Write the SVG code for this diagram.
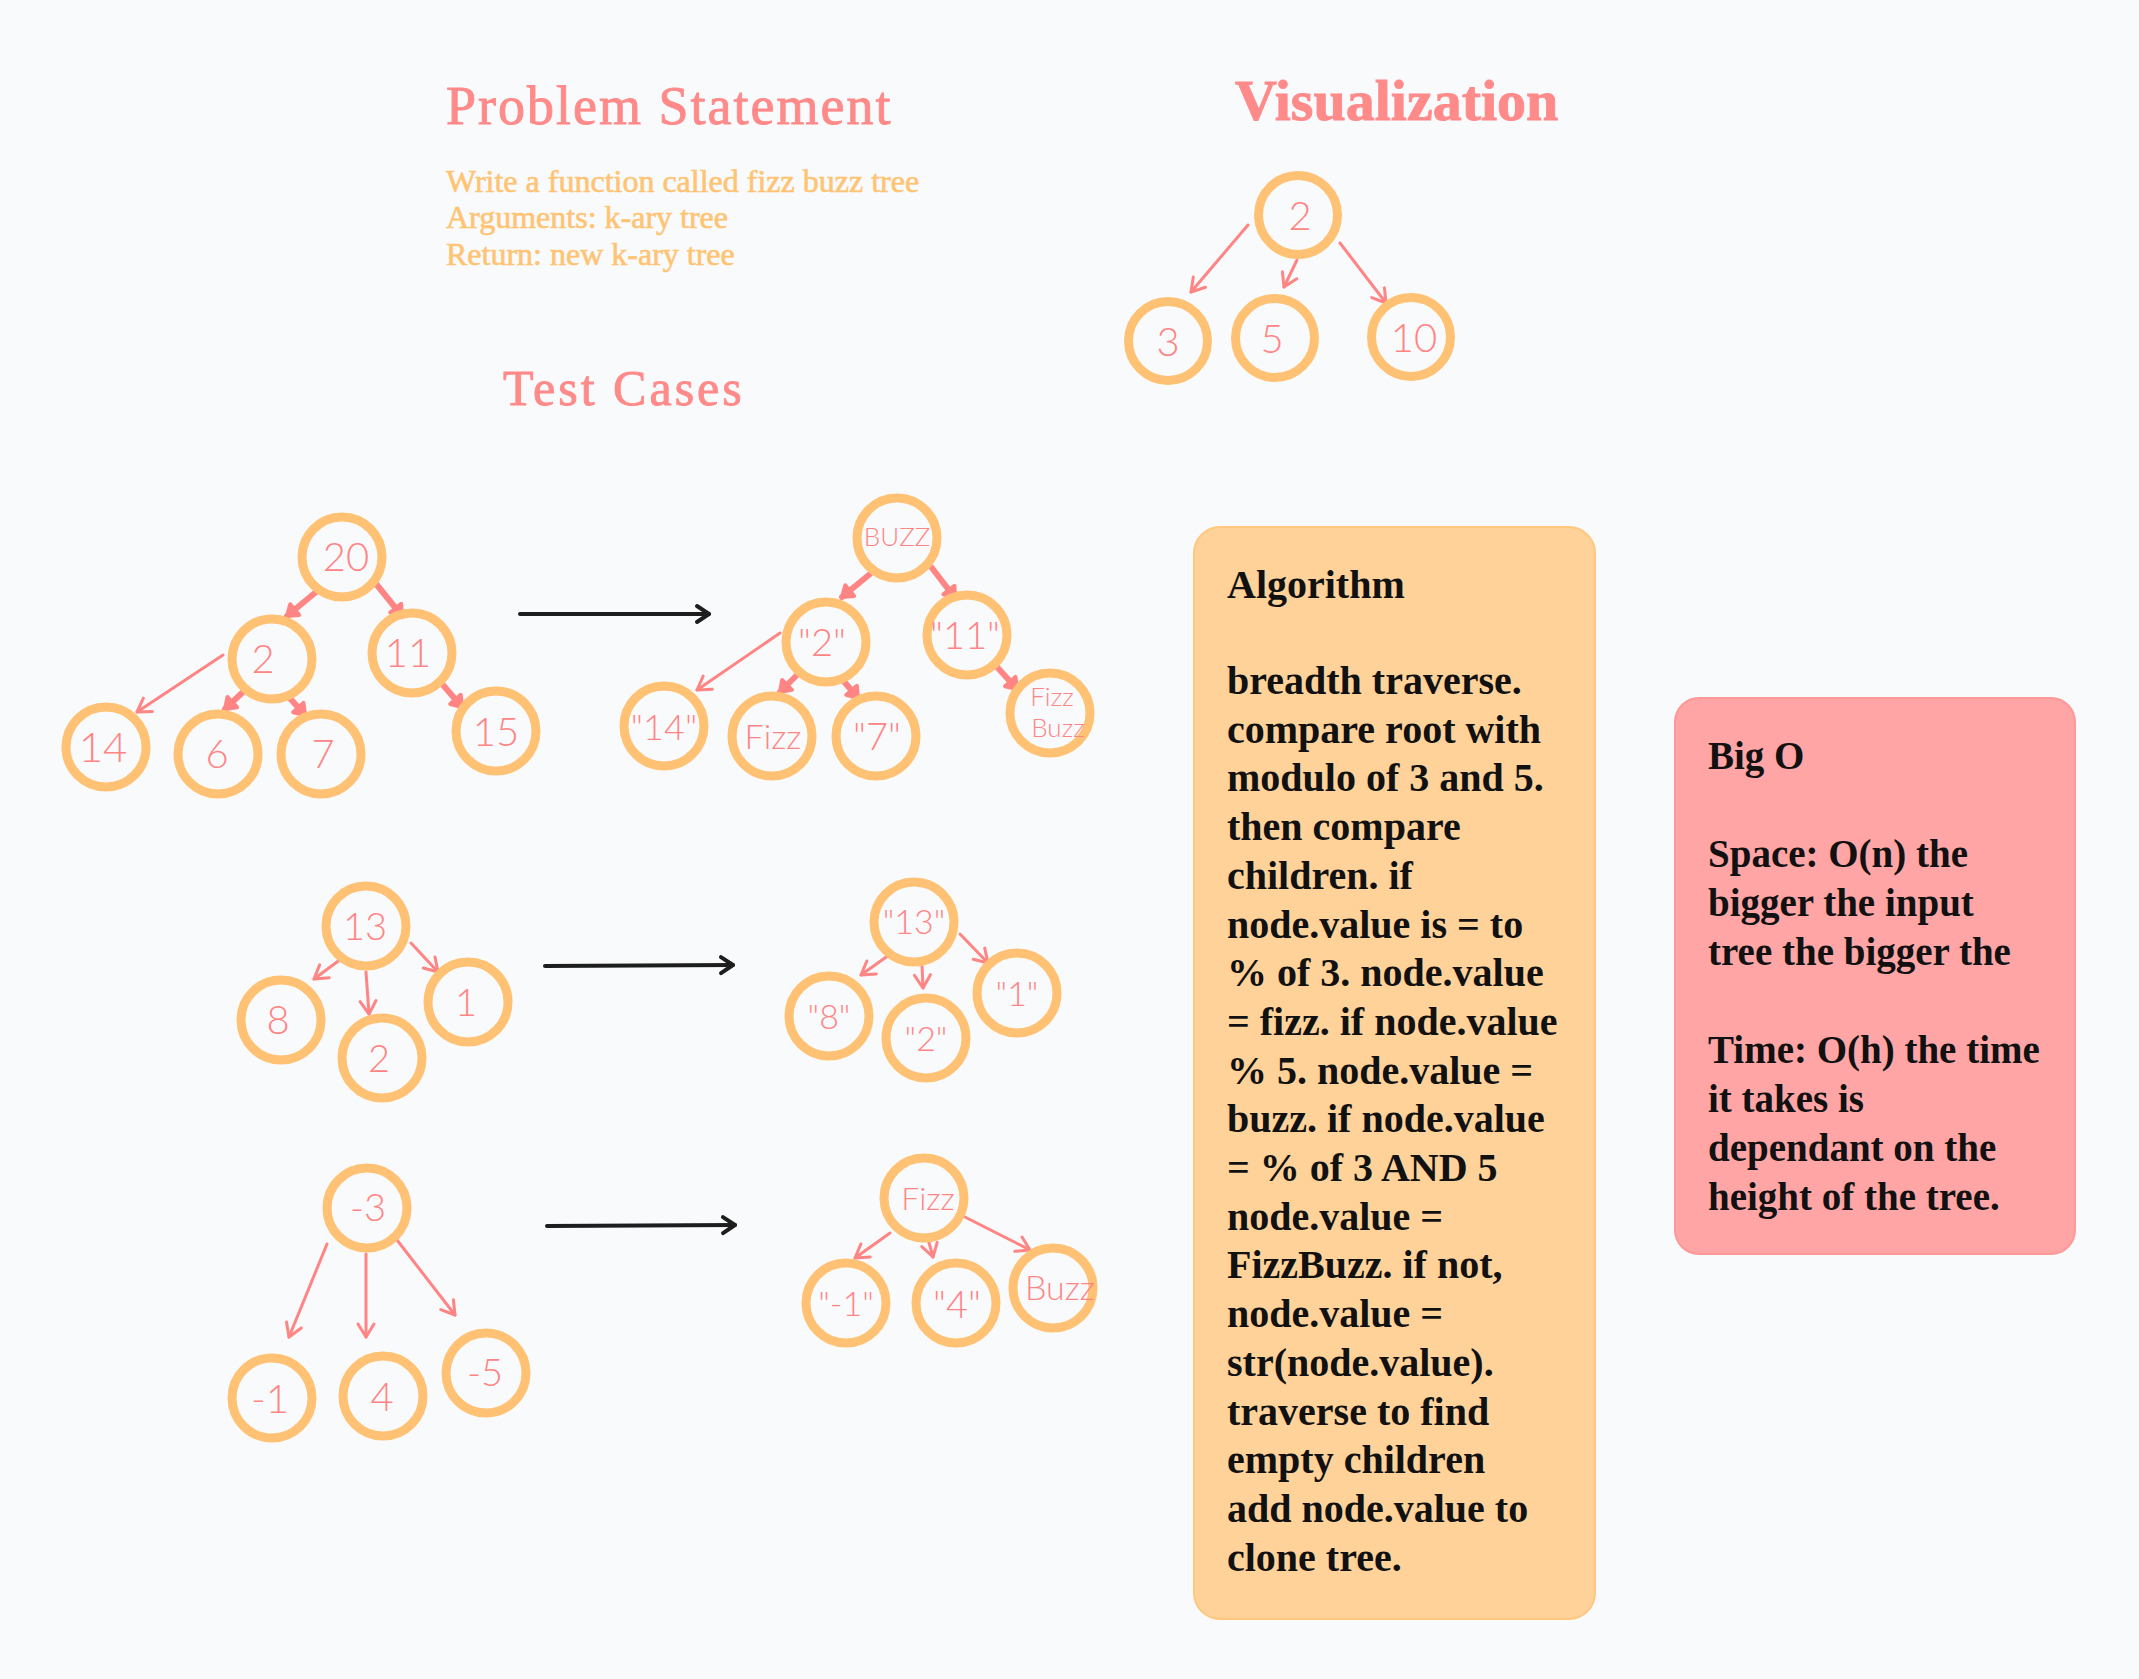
<svg xmlns="http://www.w3.org/2000/svg" width="2139" height="1679" viewBox="0 0 2139 1679">
<style>
.title{font-family:"Liberation Serif",serif;fill:#FF8A8A;stroke:#FF8A8A;stroke-width:0.9}
.body{font-family:"Liberation Serif",serif;fill:#FFC473;stroke:#FFC473;stroke-width:0.6;font-size:32px}
.c{fill:none;stroke:#FFC173;stroke-width:9}
.hw{font-family:Lato,"Open Sans",sans-serif;font-weight:300;fill:#FF8585;text-anchor:middle}
.thin{stroke:#FF8585;stroke-width:3;fill:none;stroke-linecap:round;marker-end:url(#hThin)}
.thick{stroke:#FF8585;stroke-width:6;fill:none;stroke-linecap:round;marker-end:url(#hThick)}
.blk{stroke:#1E1E1E;stroke-width:4;fill:none;stroke-linecap:round;marker-end:url(#hBlk)}
.alg{font-family:"Liberation Serif",serif;font-weight:bold;font-size:40px;fill:#111}
.big{font-family:"Liberation Serif",serif;font-weight:bold;font-size:39px;fill:#111}
</style>
<defs>
<marker id="hThin" viewBox="-20 -12 24 24" refX="0" refY="0" markerWidth="24" markerHeight="24" markerUnits="userSpaceOnUse" orient="auto"><path d="M-13,-8 L0,0 L-13,8" fill="none" stroke="#FF8585" stroke-width="3" stroke-linecap="round" stroke-linejoin="round"/></marker>
<marker id="hThick" viewBox="-20 -12 24 24" refX="0" refY="0" markerWidth="24" markerHeight="24" markerUnits="userSpaceOnUse" orient="auto"><path d="M-10,-7 L0,0 L-10,7 Z" fill="#FF8585" stroke="#FF8585" stroke-width="4" stroke-linejoin="round"/></marker>
<marker id="hBlk" viewBox="-20 -12 24 24" refX="0" refY="0" markerWidth="24" markerHeight="24" markerUnits="userSpaceOnUse" orient="auto"><path d="M-12,-8 L0,0 L-12,8" fill="none" stroke="#1E1E1E" stroke-width="4" stroke-linecap="round" stroke-linejoin="round"/></marker>
</defs>
<rect width="2139" height="1679" fill="#F9FAFB"/>

<g id="titles">
<text class="title" x="446" y="124" font-size="54" letter-spacing="2">Problem Statement</text>
<text class="body" x="446" y="192">Write a function called fizz buzz tree</text>
<text class="body" x="446" y="228">Arguments: k-ary tree</text>
<text class="body" x="446" y="265">Return: new k-ary tree</text>
<text class="title" x="1235" y="120" font-size="58" font-weight="bold" stroke-width="0">Visualization</text>
<text class="title" x="503" y="405" font-size="50" letter-spacing="3">Test Cases</text>
</g>

<g id="connectors">
<line class="thin" x1="1248" y1="225" x2="1191" y2="292"/>
<line class="thin" x1="1297" y1="260" x2="1284" y2="287"/>
<line class="thin" x1="1340" y1="243" x2="1386" y2="303"/>

<line class="thick" x1="316" y1="592" x2="287" y2="616"/>
<line class="thick" x1="377" y1="585" x2="402" y2="616"/>
<line class="thick" x1="244" y1="691" x2="225" y2="709"/>
<line class="thick" x1="287" y1="695" x2="305" y2="715"/>
<line class="thick" x1="443" y1="685" x2="462" y2="707"/>
<line class="thin" x1="223" y1="655" x2="137" y2="712"/>

<line class="thick" x1="870" y1="574" x2="842" y2="597"/>
<line class="thick" x1="932" y1="568" x2="955" y2="598"/>
<line class="thick" x1="798" y1="674" x2="780" y2="692"/>
<line class="thick" x1="841" y1="678" x2="858" y2="698"/>
<line class="thick" x1="997" y1="667" x2="1017" y2="689"/>
<line class="thin" x1="780" y1="633" x2="697" y2="690"/>

<line class="thin" x1="341" y1="959" x2="314" y2="979"/>
<line class="thin" x1="366" y1="972" x2="369" y2="1014"/>
<line class="thin" x1="411" y1="943" x2="438" y2="972"/>
<line class="thin" x1="889" y1="955" x2="861" y2="975"/>
<line class="thin" x1="922" y1="965" x2="923" y2="988"/>
<line class="thin" x1="960" y1="934" x2="988" y2="963"/>

<line class="thin" x1="327" y1="1244" x2="289" y2="1337"/>
<line class="thin" x1="366" y1="1254" x2="366" y2="1337"/>
<line class="thin" x1="397" y1="1240" x2="455" y2="1315"/>
<line class="thin" x1="890" y1="1233" x2="855" y2="1258"/>
<line class="thin" x1="928" y1="1239" x2="933" y2="1257"/>
<line class="thin" x1="959" y1="1214" x2="1030" y2="1250"/>

<line class="blk" x1="520" y1="614" x2="709" y2="614"/>
<line class="blk" x1="545" y1="966" x2="733" y2="965"/>
<line class="blk" x1="547" y1="1226" x2="735" y2="1225"/>
</g>

<g id="v-root"><circle class="c" cx="1298" cy="215" r="39.5"/><text class="hw" x="1300" y="230" font-size="40">2</text></g>
<g id="v-3"><circle class="c" cx="1168" cy="341" r="39.5"/><text class="hw" x="1168" y="356" font-size="40">3</text></g>
<g id="v-5"><circle class="c" cx="1275" cy="338" r="39.5"/><text class="hw" x="1272" y="353" font-size="40">5</text></g>
<g id="v-10"><circle class="c" cx="1411" cy="337" r="39.5"/><text class="hw" x="1414" y="352" font-size="40">10</text></g>

<g id="t1-20"><circle class="c" cx="342" cy="557" r="40"/><text class="hw" x="346" y="571" font-size="40">20</text></g>
<g id="t1-2"><circle class="c" cx="272" cy="659" r="40"/><text class="hw" x="263" y="673" font-size="40">2</text></g>
<g id="t1-11"><circle class="c" cx="412" cy="653" r="40"/><text class="hw" x="408" y="667" font-size="40">11</text></g>
<g id="t1-14"><circle class="c" cx="106" cy="747" r="40"/><text class="hw" x="103" y="762" font-size="42">14</text></g>
<g id="t1-6"><circle class="c" cx="218" cy="754" r="40"/><text class="hw" x="217" y="768" font-size="40">6</text></g>
<g id="t1-7"><circle class="c" cx="321" cy="754" r="40"/><text class="hw" x="323" y="768" font-size="40">7</text></g>
<g id="t1-15"><circle class="c" cx="496" cy="731" r="40"/><text class="hw" x="496" y="746" font-size="40">15</text></g>

<g id="o1-buzz"><circle class="c" cx="897" cy="538" r="40"/><text class="hw" x="897" y="546" font-size="26">BUZZ</text></g>
<g id="o1-2"><circle class="c" cx="826" cy="642" r="40"/><text class="hw" x="822" y="656" font-size="38">"2"</text></g>
<g id="o1-11"><circle class="c" cx="967" cy="635" r="40"/><text class="hw" x="965" y="649" font-size="38">"11"</text></g>
<g id="o1-14"><circle class="c" cx="664" cy="726" r="40"/><text class="hw" x="664" y="740" font-size="36">"14"</text></g>
<g id="o1-fizz"><circle class="c" cx="772" cy="736" r="40"/><text class="hw" x="773" y="749" font-size="34">Fizz</text></g>
<g id="o1-7"><circle class="c" cx="876" cy="736" r="40"/><text class="hw" x="877" y="750" font-size="38">"7"</text></g>
<g id="o1-fizzbuzz"><circle class="c" cx="1050" cy="713" r="40"/><text class="hw" x="1052" y="706" font-size="26">Fizz</text><text class="hw" x="1058" y="737" font-size="26">Buzz</text></g>

<g id="t2-13"><circle class="c" cx="366" cy="926" r="40"/><text class="hw" x="365" y="940" font-size="38">13</text></g>
<g id="t2-8"><circle class="c" cx="281" cy="1020" r="40"/><text class="hw" x="278" y="1034" font-size="40">8</text></g>
<g id="t2-2"><circle class="c" cx="382" cy="1058" r="40"/><text class="hw" x="379" y="1072" font-size="38">2</text></g>
<g id="t2-1"><circle class="c" cx="468" cy="1002" r="40"/><text class="hw" x="466" y="1016" font-size="38">1</text></g>

<g id="o2-13"><circle class="c" cx="914" cy="922" r="40"/><text class="hw" x="914" y="934" font-size="34">"13"</text></g>
<g id="o2-8"><circle class="c" cx="829" cy="1016" r="40"/><text class="hw" x="829" y="1029" font-size="34">"8"</text></g>
<g id="o2-2"><circle class="c" cx="926" cy="1038" r="40"/><text class="hw" x="926" y="1051" font-size="34">"2"</text></g>
<g id="o2-1"><circle class="c" cx="1017" cy="993" r="40"/><text class="hw" x="1017" y="1006" font-size="34">"1"</text></g>

<g id="t3-n3"><circle class="c" cx="367" cy="1208" r="40"/><text class="hw" x="368" y="1221" font-size="38">-3</text></g>
<g id="t3-n1"><circle class="c" cx="272" cy="1398" r="40"/><text class="hw" x="270" y="1413" font-size="40">-1</text></g>
<g id="t3-4"><circle class="c" cx="383" cy="1396" r="40"/><text class="hw" x="382" y="1411" font-size="40">4</text></g>
<g id="t3-n5"><circle class="c" cx="486" cy="1373" r="40"/><text class="hw" x="485" y="1386" font-size="38">-5</text></g>

<g id="o3-fizz"><circle class="c" cx="924" cy="1198" r="40"/><text class="hw" x="928" y="1210" font-size="32">Fizz</text></g>
<g id="o3-n1"><circle class="c" cx="846" cy="1303" r="40"/><text class="hw" x="846" y="1316" font-size="34">"-1"</text></g>
<g id="o3-4"><circle class="c" cx="956" cy="1303" r="40"/><text class="hw" x="957" y="1318" font-size="38">"4"</text></g>
<g id="o3-buzz"><circle class="c" cx="1053" cy="1288" r="40"/><text class="hw" x="1060" y="1300" font-size="34">Buzz</text></g>

<g id="algorithm">
<rect x="1194" y="527" width="401" height="1092" rx="26" fill="#FFD29A" stroke="#FFC77F" stroke-width="2"/>
<text class="alg" x="1227" y="598">Algorithm</text>
<text class="alg" x="1227" y="694">breadth traverse.</text>
<text class="alg" x="1227" y="742.7">compare root with</text>
<text class="alg" x="1227" y="791.4">modulo of 3 and 5.</text>
<text class="alg" x="1227" y="840.1">then compare</text>
<text class="alg" x="1227" y="888.8">children. if</text>
<text class="alg" x="1227" y="937.5">node.value is = to</text>
<text class="alg" x="1227" y="986.2">% of 3. node.value</text>
<text class="alg" x="1227" y="1034.9">= fizz. if node.value</text>
<text class="alg" x="1227" y="1083.6">% 5. node.value =</text>
<text class="alg" x="1227" y="1132.3">buzz. if node.value</text>
<text class="alg" x="1227" y="1181">= % of 3 AND 5</text>
<text class="alg" x="1227" y="1229.7">node.value =</text>
<text class="alg" x="1227" y="1278.4">FizzBuzz. if not,</text>
<text class="alg" x="1227" y="1327.1">node.value =</text>
<text class="alg" x="1227" y="1375.8">str(node.value).</text>
<text class="alg" x="1227" y="1424.5">traverse to find</text>
<text class="alg" x="1227" y="1473.2">empty children</text>
<text class="alg" x="1227" y="1521.9">add node.value to</text>
<text class="alg" x="1227" y="1570.6">clone tree.</text>
</g>

<g id="bigo">
<rect x="1675" y="698" width="400" height="556" rx="24" fill="#FFA5A5" stroke="#FF9999" stroke-width="2"/>
<text class="big" x="1708" y="769">Big O</text>
<text class="big" x="1708" y="867">Space: O(n) the</text>
<text class="big" x="1708" y="916">bigger the input</text>
<text class="big" x="1708" y="965">tree the bigger the</text>
<text class="big" x="1708" y="1063">Time: O(h) the time</text>
<text class="big" x="1708" y="1112">it takes is</text>
<text class="big" x="1708" y="1161">dependant on the</text>
<text class="big" x="1708" y="1210">height of the tree.</text>
</g>
</svg>
